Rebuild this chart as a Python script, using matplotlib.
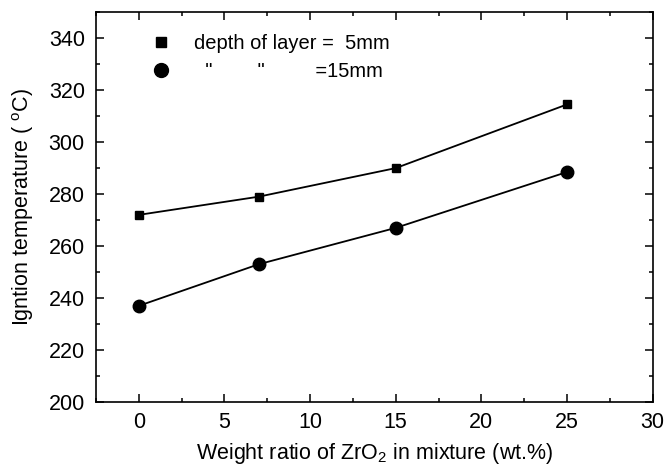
import matplotlib
matplotlib.use("Agg")
import matplotlib.pyplot as plt
from matplotlib.lines import Line2D
from matplotlib.ticker import MultipleLocator

plt.rcParams["font.family"] = ["Liberation Sans", "DejaVu Sans"]
plt.rcParams["mathtext.fontset"] = "custom"
plt.rcParams["mathtext.rm"] = "Liberation Sans"
plt.rcParams["mathtext.it"] = "Liberation Sans"

# data
zro2 = [0, 7, 15, 25]
temp_5mm = [272, 279, 290, 314.5]
temp_15mm = [237, 253, 267, 288.5]
lab_5mm = "depth of layer =  5mm"
lab_15mm = '  "        "         =15mm'

fig = plt.figure(figsize=(6.66, 4.68), dpi=100)
ax = fig.add_axes([0.144, 0.141, 0.836, 0.833])

ax.plot(zro2, temp_5mm, "-", color="black", lw=1.3, marker="s", ms=6)
ax.plot(zro2, temp_15mm, "-", color="black", lw=1.3, marker="o", ms=9)

ax.set_xlim(-2.5, 30)
ax.set_ylim(200, 350)
ax.xaxis.set_major_locator(MultipleLocator(5))
ax.xaxis.set_minor_locator(MultipleLocator(2.5))
ax.yaxis.set_major_locator(MultipleLocator(20))
ax.yaxis.set_minor_locator(MultipleLocator(10))
ax.tick_params(which="both", direction="in", top=True, right=True, labelsize=15.5, width=1.1)
ax.tick_params(which="major", length=6)
ax.tick_params(which="minor", length=3)
ax.tick_params(axis="x", pad=7)
ax.tick_params(axis="y", pad=8)
for s in ax.spines.values():
    s.set_linewidth(1.2)

ax.set_xlabel(r"Weight ratio of ZrO$_2$ in mixture (wt.%)", fontsize=15.5, labelpad=6)
ax.set_ylabel(r"Igntion temperature ( $^{\rm o}$C)", fontsize=15.5, labelpad=9)

handles = [Line2D([], [], ls="none", marker="s", ms=7, color="black"),
           Line2D([], [], ls="none", marker="o", ms=10, color="black")]
ax.legend(handles, [lab_5mm, lab_15mm], loc="upper left", bbox_to_anchor=(0.078, 0.975),
          frameon=False, fontsize=14.5, handlelength=1.0, handletextpad=1.1,
          labelspacing=0.45, borderaxespad=0.2)

fig.savefig("out.png", dpi=100)
